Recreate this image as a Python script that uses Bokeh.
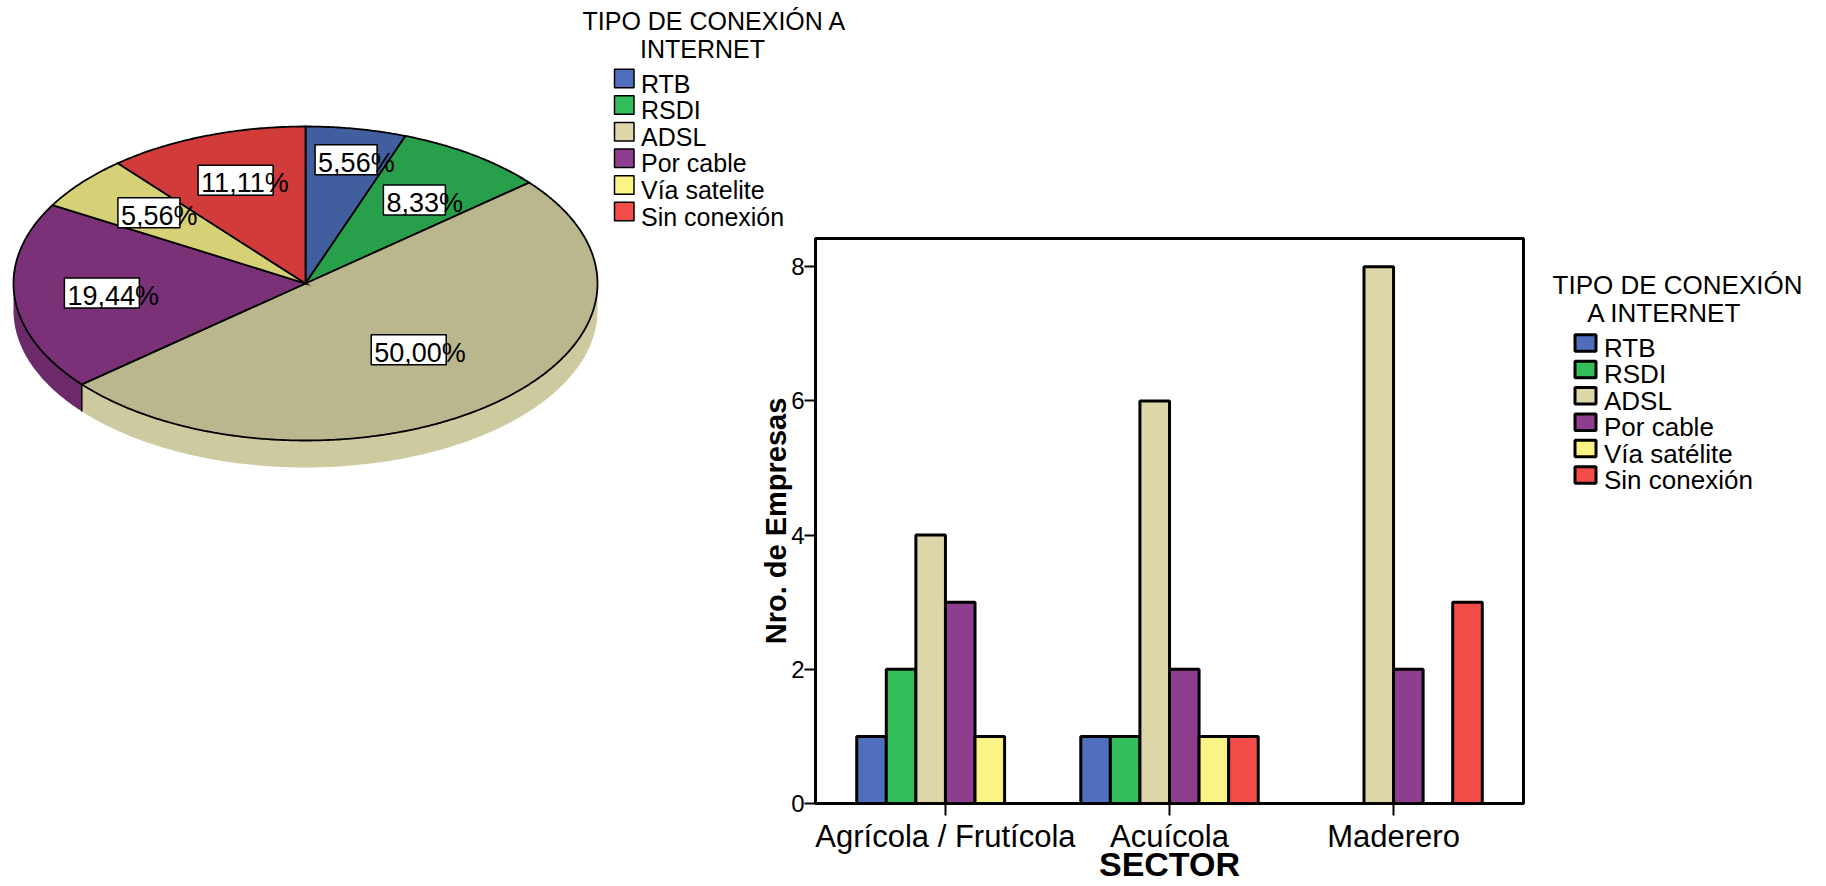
import math
from bokeh.plotting import figure
from bokeh.models import ColumnDataSource, Range1d, FactorRange, Label, FixedTicker
from bokeh.transform import dodge
from bokeh.core.properties import value
from bokeh.embed import file_html
from bokeh.resources import INLINE

# ---------------- data ----------------
tipos_pie = ["RTB", "RSDI", "ADSL", "Por cable", "Vía satelite", "Sin conexión"]
pie_pct = [5.56, 8.33, 50.00, 19.44, 5.56, 11.11]

sectores = ["Agrícola / Frutícola", "Acuícola", "Maderero"]
tipos_bar = ["RTB", "RSDI", "ADSL", "Por cable", "Vía satélite", "Sin conexión"]
rtb = [1, 1, 0]
rsdi = [2, 1, 0]
adsl = [4, 6, 8]
por_cable = [3, 2, 2]
via_satelite = [1, 1, 0]
sin_conexion = [0, 1, 3]
y_ticks = [0, 2, 4, 6, 8]

# ---------------- style ----------------
FONT = "Liberation Sans"
base_colors = ["#4F6EBC", "#32BE5A", "#DCD6A8", "#8E3E8E", "#FAF485", "#F44C48"]
pie_top_colors = ["#415E9F", "#28A04B", "#BAB78E", "#7A3178", "#D6D176", "#D13C3A"]
pie_side_colors = ["#34508A", "#218A40", "#CECAA0", "#6C2A6A", "#BDB865", "#B53230"]
label_r = [0.80, 0.65, 0.55, 0.70, 0.70, 0.70]
W, H = 1826, 886

# ---------------- background figure: pie + legends ----------------
p_bg = figure(width=W, height=H, x_range=Range1d(0, W), y_range=Range1d(H, 0),
              output_backend="svg", toolbar_location=None, title=None,
              x_axis_location=None, y_axis_location=None, min_border=0)
p_bg.styles = {"position": "absolute", "left": "0px", "top": "0px"}
p_bg.outline_line_color = None
p_bg.xgrid.visible = False
p_bg.ygrid.visible = False
p_bg.background_fill_color = "white"
p_bg.border_fill_color = "white"

cx, cy, rx, ry, depth = 305, 283, 292, 157, 27


def ell(t, dy=0.0):
    a = math.radians(t)
    return cx + rx * math.sin(a), cy - ry * math.cos(a) + dy


def arc(a0, a1, dy=0.0):
    n = max(2, int(abs(a1 - a0) / 0.5) + 1)
    pts = [ell(a0 + (a1 - a0) * k / (n - 1), dy) for k in range(n)]
    return [p[0] for p in pts], [p[1] for p in pts]


angles = []
acc = 0.0
for v in pie_pct:
    a0 = acc * 3.6
    acc += v
    angles.append((a0, acc * 3.6))

side_xs, side_ys, side_cols = [], [], []
for i, (a0, a1) in enumerate(angles):
    s, e = max(a0, 90.0), min(a1, 270.0)
    if e > s:
        tx, ty = arc(s, e)
        bx, by = arc(e, s, depth)
        side_xs.append(tx + bx)
        side_ys.append(ty + by)
        side_cols.append(pie_side_colors[i])
p_bg.patches(xs=side_xs, ys=side_ys, fill_color=side_cols, line_color=None)

seg_x0, seg_y0, seg_x1, seg_y1 = [], [], [], []
for (a0, a1) in angles[:-1]:
    if 90.0 < a1 < 270.0:
        x0, y0 = ell(a1)
        seg_x0.append(x0); seg_y0.append(y0)
        seg_x1.append(x0); seg_y1.append(y0 + depth)
p_bg.segment(x0=seg_x0, y0=seg_y0, x1=seg_x1, y1=seg_y1, line_color="black", line_width=1.5)

top_xs, top_ys = [], []
for (a0, a1) in angles:
    ax, ay = arc(a0, a1)
    top_xs.append([cx] + ax)
    top_ys.append([cy] + ay)
p_bg.patches(xs=top_xs, ys=top_ys, fill_color=pie_top_colors, line_color="black",
             line_width=1.8, line_join="miter")

# percentage labels
lab_x, lab_y, box_w, txt_x, txt_y, txt = [], [], [], [], [], []
for i, (a0, a1) in enumerate(angles):
    mid = math.radians((a0 + a1) / 2)
    bx = cx + label_r[i] * rx * math.sin(mid)
    by = cy - label_r[i] * ry * math.cos(mid)
    num = f"{pie_pct[i]:.2f}".replace(".", ",")
    w = 13 * len(num) + 10
    lab_x.append(bx); lab_y.append(by); box_w.append(w)
    txt_x.append(bx - w / 2 + 3); txt_y.append(by + 3); txt.append(num + "%")
p_bg.rect(x=lab_x, y=lab_y, width=box_w, height=30, fill_color="white",
          line_color="black", line_width=1.5)
p_bg.text(x=txt_x, y=txt_y, text=txt, text_font=value(FONT), text_font_size="27px",
          text_align="left", text_baseline="middle", text_color="black")


def draw_legend(names, title1, title2, x0, y0, step, sw, sh, lw, gap, fsize,
                t1x, t1y, t2x, t2y):
    n = len(names)
    ys = [y0 + step * i for i in range(n)]
    p_bg.rect(x=[x0 + sw / 2] * n, y=ys, width=sw, height=sh, fill_color=base_colors[:n],
              line_color="black", line_width=lw)
    p_bg.text(x=[x0 + sw + gap] * n, y=[y + 5 for y in ys], text=names,
              text_font=value(FONT), text_font_size=fsize, text_align="left",
              text_baseline="middle", text_color="black")
    p_bg.add_layout(Label(x=t1x, y=t1y, text=title1, text_align="center",
                          text_baseline="middle", text_font=FONT, text_font_size=fsize,
                          text_color="black"))
    p_bg.add_layout(Label(x=t2x, y=t2y, text=title2, text_align="center",
                          text_baseline="middle", text_font=FONT, text_font_size=fsize,
                          text_color="black"))


# legend of the pie
draw_legend(tipos_pie, "TIPO DE CONEXIÓN A", "INTERNET", 614, 78, 26.6, 19.5, 18.5, 1.5,
            7, "25px", 714, 20, 702, 48)
# legend of the bar chart
draw_legend(tipos_bar, "TIPO DE CONEXIÓN", "A INTERNET", 1574.5, 342.5, 26.4, 21, 16.5, 3,
            8, "26px", 1677, 284, 1664, 312)

# ---------------- bar chart ----------------
p_bar = figure(width=830, height=H,
               x_range=FactorRange(factors=sectores, range_padding=0.08,
                                   range_padding_units="absolute"),
               y_range=Range1d(0, 8.42), output_backend="svg", toolbar_location=None,
               title=None, min_border_left=115, min_border_right=7,
               min_border_top=238, min_border_bottom=83)
p_bar.styles = {"position": "absolute", "left": "700px", "top": "0px"}
p_bar.border_fill_alpha = 0
p_bar.background_fill_color = "white"
p_bar.outline_line_color = "black"
p_bar.outline_line_width = 3
p_bar.xgrid.visible = False
p_bar.ygrid.visible = False

src = ColumnDataSource(dict(sector=sectores, rtb=rtb, rsdi=rsdi, adsl=adsl,
                            por_cable=por_cable, via_satelite=via_satelite,
                            sin_conexion=sin_conexion))
keys = ["rtb", "rsdi", "adsl", "por_cable", "via_satelite", "sin_conexion"]
bw = 0.132
for i, k in enumerate(keys):
    p_bar.vbar(x=dodge("sector", (i - 2.5) * bw, range=p_bar.x_range), top=k,
               width=bw, source=src, fill_color=base_colors[i], line_color="black",
               line_width=3)

yax = p_bar.yaxis[0]
yax.ticker = FixedTicker(ticks=y_ticks)
yax.axis_label = "Nro. de Empresas"
yax.axis_label_text_font = FONT
yax.axis_label_text_font_size = "29px"
yax.axis_label_text_font_style = "bold"
yax.axis_label_text_color = "black"
yax.axis_label_standoff = -4
yax.major_label_text_font = FONT
yax.major_label_text_font_size = "24px"
yax.major_label_text_color = "black"
yax.major_label_standoff = 0
yax.major_tick_out = 11
yax.major_tick_in = 0
yax.major_tick_line_width = 2
yax.minor_tick_line_color = None
yax.axis_line_width = 3

xax = p_bar.xaxis[0]
xax.axis_label = "SECTOR"
xax.axis_label_text_font = FONT
xax.axis_label_text_font_size = "34px"
xax.axis_label_text_font_style = "bold"
xax.axis_label_text_color = "black"
xax.axis_label_standoff = -12
xax.major_label_text_font = FONT
xax.major_label_text_font_size = "31px"
xax.major_label_text_color = "black"
xax.major_label_standoff = 3
xax.major_tick_out = 12
xax.major_tick_in = 0
xax.major_tick_line_width = 2
xax.axis_line_width = 3

open("out.html", "w").write(file_html([p_bg, p_bar], INLINE))
